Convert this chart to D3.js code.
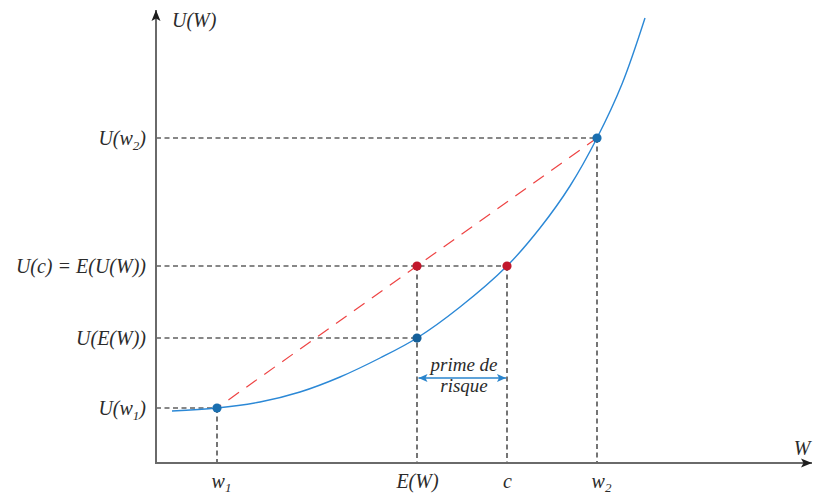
<!DOCTYPE html>
<html>
<head>
<meta charset="utf-8">
<script src="https://cdn.jsdelivr.net/npm/d3@7"></script>
<style>
  html, body { margin: 0; padding: 0; background: #fff; }
  svg { display: block; }
  text { font-family: "Liberation Serif", "DejaVu Serif", serif; font-style: italic; fill: #2b2b2b; }
</style>
</head>
<body>
<div id="chart"></div>
<script>
// ---- Data ----
// wealth values on the horizontal axis
const xTickValues = [6.1, 26.1, 35.1, 44.1];
const xTickLabels = [["w", "1"], ["E(W)", ""], ["c", ""], ["w", "2"]];
// utility values on the vertical axis
const yTickValues = [5.5, 12.5, 19.7, 32.5];
const yTickLabels = [["U(w", "1", ")"], ["U(E(W))", "", ""], ["U(c) = E(U(W))", "", ""], ["U(w", "2", ")"]];
// sampled utility curve U(W)
const curveW = [1.6, 6.1, 10.4, 14.4, 18.4, 22.4, 26.1, 30.4, 35.1, 38.4, 41.4, 44.1, 46.6, 48.9];
const curveU = [5.2, 5.5, 6.1, 7.1, 8.6, 10.5, 12.5, 15.6, 19.7, 23.5, 27.7, 32.5, 37.9, 44.5];
// key points: [W, U]
const w1Point = [6.1, 5.5];
const w2Point = [44.1, 32.5];
const ewPoint = [26.1, 12.5];   // (E(W), U(E(W)))
const euPoint = [26.1, 19.7];   // (E(W), E(U(W)))
const cPoint = [35.1, 19.7];    // (c, U(c))
const axisMax = [65.6, 45.3];

const width = 814, height = 495;
const svg = d3.select("#chart").append("svg").attr("width", width).attr("height", height);

const x = d3.scaleLinear().domain([0, axisMax[0]]).range([156, 812]);
const y = d3.scaleLinear().domain([0, axisMax[1]]).range([463, 10]);

const defs = svg.append("defs");
defs.append("marker").attr("id", "axArrow")
  .attr("markerUnits", "userSpaceOnUse").attr("markerWidth", 12).attr("markerHeight", 10)
  .attr("refX", 11).attr("refY", 5).attr("orient", "auto")
  .append("path").attr("d", "M0,0.5 L11,5 L0,9.5 L2.5,5 Z").attr("fill", "#1e1e1e");
defs.append("marker").attr("id", "blueArrow")
  .attr("markerUnits", "userSpaceOnUse").attr("markerWidth", 10).attr("markerHeight", 10)
  .attr("refX", 9).attr("refY", 5).attr("orient", "auto-start-reverse")
  .append("path").attr("d", "M0,1 L9,5 L0,9 L2,5 Z").attr("fill", "#2a84cc");

// ---- guide dashed lines ----
const guides = svg.append("g").attr("stroke", "#111").attr("stroke-width", 1.15)
  .attr("stroke-dasharray", "5,3.5").attr("fill", "none");
// horizontals from the axis to the point
[[w2Point], [euPoint, cPoint], [ewPoint], [w1Point]].forEach(([p, q]) => {
  const end = q || p;
  guides.append("line").attr("x1", x(0)).attr("x2", x(end[0])).attr("y1", y(p[1])).attr("y2", y(p[1]));
});
// verticals from the point to the axis
[w1Point, euPoint, cPoint, w2Point].forEach(p => {
  guides.append("line").attr("x1", x(p[0])).attr("x2", x(p[0])).attr("y1", y(p[1])).attr("y2", y(0));
});

// ---- axes ----
svg.append("line").attr("x1", x(0)).attr("y1", y(0)).attr("x2", x(axisMax[0])).attr("y2", y(0))
  .attr("stroke", "#6a6a6a").attr("stroke-width", 2).attr("marker-end", "url(#axArrow)");
svg.append("line").attr("x1", x(0)).attr("y1", y(0) + 1).attr("x2", x(0)).attr("y2", y(axisMax[1]))
  .attr("stroke", "#6a6a6a").attr("stroke-width", 2).attr("marker-end", "url(#axArrow)");

const xAxis = svg.append("g").attr("transform", `translate(0,${y(0)})`)
  .call(d3.axisBottom(x).tickValues(xTickValues).tickSize(0).tickPadding(11).tickFormat(""));
xAxis.select(".domain").remove();
xAxis.selectAll(".tick text").each(function(d, i) {
  const t = d3.select(this).attr("font-size", 20).attr("fill", "#2b2b2b").attr("font-family", null);
  const lab = xTickLabels[i];
  if (lab[1]) t.attr("dx", "4");
  t.append("tspan").text(lab[0]);
  if (lab[1]) t.append("tspan").attr("font-size", 13).attr("dy", 3.5).text(lab[1]);
});

const yAxis = svg.append("g").attr("transform", `translate(${x(0)},0)`)
  .call(d3.axisLeft(y).tickValues(yTickValues).tickSize(0).tickPadding(10).tickFormat(""));
yAxis.select(".domain").remove();
yAxis.selectAll(".tick text").each(function(d, i) {
  const t = d3.select(this).attr("font-size", 20).attr("fill", "#2b2b2b").attr("font-family", null);
  const lab = yTickLabels[i];
  t.append("tspan").text(lab[0]);
  if (lab[1]) {
    t.append("tspan").attr("font-size", 13).attr("dy", 5).text(lab[1]);
    t.append("tspan").attr("dy", -5).text(lab[2]);
  }
});

// axis titles
svg.append("text").attr("x", x(0) + 16).attr("y", 27).attr("font-size", 20).text("U(W)");
svg.append("text").attr("x", x(axisMax[0]) - 10).attr("y", y(0) - 8).attr("text-anchor", "middle")
  .attr("font-size", 20).text("W");

// ---- red chord ----
svg.append("line")
  .attr("x1", x(w1Point[0])).attr("y1", y(w1Point[1]))
  .attr("x2", x(w2Point[0])).attr("y2", y(w2Point[1]))
  .attr("stroke", "#ee4444").attr("stroke-width", 1.2)
  .attr("stroke-dasharray", "13,9").attr("stroke-dashoffset", 8);

// ---- utility curve ----
const line = d3.line().x(d => x(d[0])).y(d => y(d[1])).curve(d3.curveCatmullRom.alpha(0.5));
svg.append("path").datum(curveW.map((w, i) => [w, curveU[i]]))
  .attr("d", line).attr("fill", "none").attr("stroke", "#2b88d6").attr("stroke-width", 1.4);

// ---- points ----
const pts = [
  { p: w1Point, c: "#1a6fb0" },
  { p: w2Point, c: "#1a6fb0" },
  { p: ewPoint, c: "#15609a" },
  { p: euPoint, c: "#c2182c" },
  { p: cPoint, c: "#c2182c" }
];
svg.append("g").selectAll("circle").data(pts).join("circle")
  .attr("cx", d => x(d.p[0])).attr("cy", d => y(d.p[1])).attr("r", 4.6)
  .attr("fill", d => d.c);

// ---- risk premium arrow ----
const arrowY = 378;
svg.append("line").attr("x1", x(ewPoint[0]) + 1.5).attr("x2", x(cPoint[0]) - 1)
  .attr("y1", arrowY).attr("y2", arrowY)
  .attr("stroke", "#2a84cc").attr("stroke-width", 1.6)
  .attr("marker-start", "url(#blueArrow)").attr("marker-end", "url(#blueArrow)");
const midX = (x(ewPoint[0]) + x(cPoint[0])) / 2 + 2;
svg.append("text").attr("x", midX).attr("y", 371).attr("text-anchor", "middle").attr("font-size", 19).text("prime de");
svg.append("text").attr("x", midX).attr("y", 392).attr("text-anchor", "middle").attr("font-size", 19).text("risque");
</script>
</body>
</html>
